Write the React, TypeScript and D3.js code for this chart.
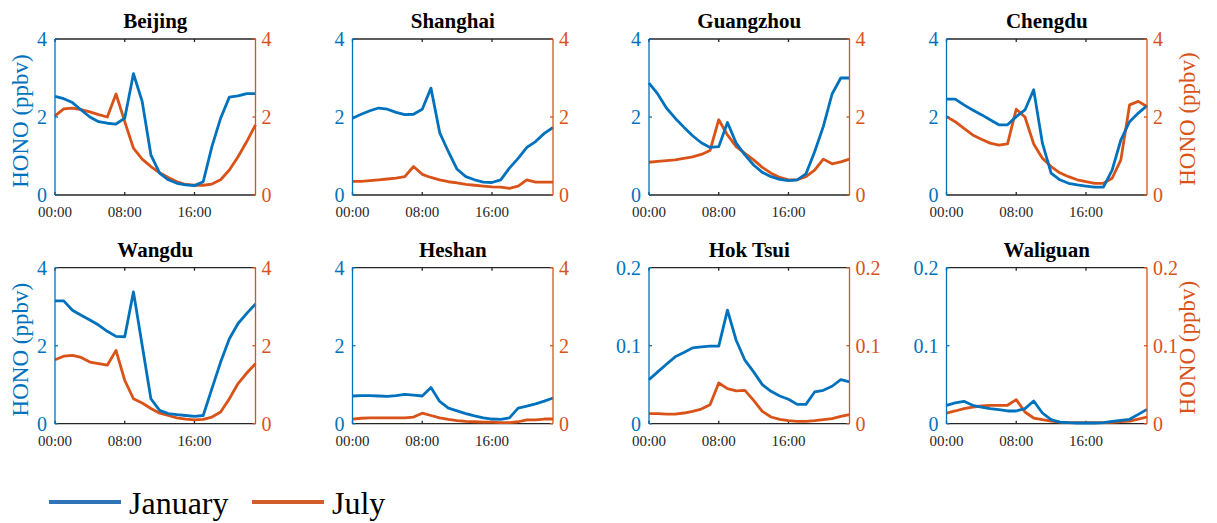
import React from "react";
import * as d3 from "d3";

// hourly means, 00:00 .. 23:00
const hours = d3.range(24);
const xTickHours = [0, 8, 16];
const xTickLabels = ["00:00", "08:00", "16:00"];

const beijingJan = [2.53, 2.47, 2.37, 2.18, 2.0, 1.88, 1.84, 1.82, 1.97, 3.11, 2.4, 1.03, 0.56, 0.39, 0.3, 0.26, 0.24, 0.34, 1.24, 1.97, 2.51, 2.54, 2.6, 2.6];
const beijingJul = [2.03, 2.21, 2.23, 2.19, 2.13, 2.06, 2.0, 2.59, 1.88, 1.2, 0.92, 0.73, 0.57, 0.45, 0.34, 0.27, 0.25, 0.25, 0.28, 0.39, 0.64, 0.98, 1.37, 1.8];
const shanghaiJan = [1.97, 2.07, 2.16, 2.23, 2.2, 2.12, 2.06, 2.07, 2.2, 2.74, 1.6, 1.11, 0.66, 0.47, 0.39, 0.33, 0.32, 0.39, 0.69, 0.94, 1.22, 1.37, 1.58, 1.73];
const shanghaiJul = [0.35, 0.35, 0.37, 0.39, 0.41, 0.43, 0.47, 0.73, 0.53, 0.45, 0.39, 0.34, 0.31, 0.27, 0.25, 0.23, 0.21, 0.2, 0.17, 0.23, 0.39, 0.33, 0.33, 0.33];
const guangzhouJan = [2.87, 2.59, 2.23, 1.97, 1.74, 1.52, 1.34, 1.22, 1.24, 1.86, 1.33, 1.03, 0.77, 0.58, 0.47, 0.4, 0.37, 0.39, 0.54, 1.11, 1.76, 2.59, 3.0, 3.0];
const guangzhouJul = [0.84, 0.86, 0.88, 0.9, 0.94, 0.98, 1.04, 1.14, 1.93, 1.54, 1.24, 1.07, 0.9, 0.71, 0.56, 0.45, 0.39, 0.39, 0.47, 0.64, 0.92, 0.8, 0.85, 0.92];
const chengduJan = [2.46, 2.46, 2.31, 2.18, 2.06, 1.93, 1.8, 1.8, 2.01, 2.18, 2.7, 1.33, 0.56, 0.39, 0.3, 0.26, 0.23, 0.2, 0.2, 0.64, 1.41, 1.88, 2.1, 2.29];
const chengduJul = [2.01, 1.88, 1.71, 1.54, 1.43, 1.33, 1.28, 1.31, 2.2, 2.0, 1.31, 0.94, 0.73, 0.57, 0.47, 0.39, 0.34, 0.3, 0.3, 0.43, 0.9, 2.31, 2.4, 2.27];
const wangduJan = [3.15, 3.15, 2.91, 2.78, 2.66, 2.53, 2.37, 2.24, 2.23, 3.38, 2.01, 0.64, 0.34, 0.26, 0.23, 0.21, 0.19, 0.21, 0.9, 1.58, 2.18, 2.57, 2.83, 3.07];
const wangduJul = [1.64, 1.73, 1.75, 1.7, 1.58, 1.54, 1.5, 1.88, 1.11, 0.64, 0.53, 0.39, 0.27, 0.21, 0.15, 0.12, 0.1, 0.11, 0.17, 0.3, 0.64, 1.03, 1.3, 1.54];
const heshanJan = [0.71, 0.72, 0.72, 0.71, 0.7, 0.72, 0.75, 0.73, 0.71, 0.93, 0.57, 0.4, 0.33, 0.26, 0.2, 0.15, 0.12, 0.11, 0.15, 0.4, 0.45, 0.51, 0.58, 0.66];
const heshanJul = [0.12, 0.14, 0.15, 0.15, 0.15, 0.15, 0.15, 0.17, 0.27, 0.21, 0.15, 0.11, 0.08, 0.06, 0.05, 0.04, 0.04, 0.03, 0.03, 0.05, 0.1, 0.1, 0.12, 0.12];
const hokTsuiJan = [0.0565, 0.0664, 0.0762, 0.0857, 0.0912, 0.0972, 0.0985, 0.0994, 0.0994, 0.1456, 0.107, 0.0814, 0.0664, 0.0501, 0.0415, 0.0355, 0.0313, 0.0248, 0.0248, 0.0407, 0.0428, 0.048, 0.0565, 0.0535];
const hokTsuiJul = [0.0128, 0.0128, 0.0124, 0.0124, 0.0137, 0.0158, 0.0188, 0.0244, 0.0522, 0.045, 0.042, 0.0428, 0.03, 0.0158, 0.0086, 0.0056, 0.0039, 0.003, 0.003, 0.0039, 0.0051, 0.0064, 0.0094, 0.0116];
const waliguanJan = [0.0236, 0.0266, 0.0287, 0.0236, 0.0214, 0.0193, 0.018, 0.0163, 0.0163, 0.0193, 0.0291, 0.0137, 0.0051, 0.0021, 0.0013, 0.0009, 0.0009, 0.0009, 0.0013, 0.003, 0.0043, 0.0056, 0.012, 0.0184];
const waliguanJul = [0.0137, 0.0163, 0.0193, 0.0214, 0.0227, 0.0236, 0.0236, 0.0236, 0.0308, 0.015, 0.0073, 0.0051, 0.0034, 0.0021, 0.0013, 0.0013, 0.0013, 0.0013, 0.0013, 0.0017, 0.0026, 0.0034, 0.006, 0.0086];

const cityNames = ["Beijing", "Shanghai", "Guangzhou", "Chengdu", "Wangdu", "Heshan", "Hok Tsui", "Waliguan"];
const janSeries = [beijingJan, shanghaiJan, guangzhouJan, chengduJan, wangduJan, heshanJan, hokTsuiJan, waliguanJan];
const julSeries = [beijingJul, shanghaiJul, guangzhouJul, chengduJul, wangduJul, heshanJul, hokTsuiJul, waliguanJul];
const yMaxes = [4, 4, 4, 4, 4, 4, 0.2, 0.2];
const yTicksBig = [0, 2, 4];
const yTicksSmall = [0, 0.1, 0.2];

const legendLabels = ["January", "July"];

const BLUE = "#0072BD";
const ORANGE = "#D95319";
const AXIS = "#262626";
const FONT = "'Liberation Serif', 'Times New Roman', serif";

const colLefts = [55, 352.5, 649, 946.5];
const rowTops = [39, 267.7];
const panelW = 200.5;
const panelH = 156;

function Panel({ idx }: { idx: number }) {
  const col = idx % 4;
  const row = Math.floor(idx / 4);
  const x0 = colLefts[col];
  const y0 = rowTops[row];
  const x = d3.scaleLinear().domain([0, 23]).range([x0, x0 + panelW]);
  const y = d3.scaleLinear().domain([0, yMaxes[idx]]).range([y0 + panelH, y0]);
  const ticks = yMaxes[idx] > 1 ? yTicksBig : yTicksSmall;
  const fmt = (v: number) => String(v);
  const line = d3
    .line<number>()
    .x((_, i) => x(hours[i]))
    .y((d) => y(d));
  const bottom = y0 + panelH;
  const right = x0 + panelW;
  const tl = 3;

  return (
    <g>
      {/* box top / bottom */}
      <line x1={x0} x2={right} y1={y0} y2={y0} stroke={AXIS} strokeWidth={1.3} />
      <line x1={x0} x2={right} y1={bottom} y2={bottom} stroke={AXIS} strokeWidth={1.3} />
      {xTickHours.map((h, i) => (
        <g key={h}>
          <line x1={x(h)} x2={x(h)} y1={bottom} y2={bottom - tl} stroke={AXIS} strokeWidth={1.3} />
          <line x1={x(h)} x2={x(h)} y1={y0} y2={y0 + tl} stroke={AXIS} strokeWidth={1.3} />
          <text x={x(h)} y={bottom + 22} fontSize={15} textAnchor="middle" fill="#262626" fontFamily={FONT}>
            {xTickLabels[i]}
          </text>
        </g>
      ))}

      <path d={line(julSeries[idx]) || ""} fill="none" stroke={ORANGE} strokeWidth={2.8} strokeLinejoin="round" />
      <path d={line(janSeries[idx]) || ""} fill="none" stroke={BLUE} strokeWidth={2.8} strokeLinejoin="round" />

      {/* left axis */}
      <line x1={x0} x2={x0} y1={y0} y2={bottom} stroke={BLUE} strokeWidth={1.3} />
      {/* right axis */}
      <line x1={right} x2={right} y1={y0} y2={bottom} stroke={ORANGE} strokeWidth={1.3} />
      {ticks.map((t) => (
        <g key={t}>
          <line x1={x0} x2={x0 + tl} y1={y(t)} y2={y(t)} stroke={BLUE} strokeWidth={1.3} />
          <line x1={right} x2={right - tl} y1={y(t)} y2={y(t)} stroke={ORANGE} strokeWidth={1.3} />
          <text x={x0 - 8} y={y(t)} dy="0.35em" fontSize={20} textAnchor="end" fill={BLUE} fontFamily={FONT}>
            {fmt(t)}
          </text>
          <text x={right + 6} y={y(t)} dy="0.35em" fontSize={20} textAnchor="start" fill={ORANGE} fontFamily={FONT}>
            {fmt(t)}
          </text>
        </g>
      ))}

      <text x={(x0 + right) / 2} y={y0 - 11} fontSize={21} fontWeight="bold" textAnchor="middle" fill="#000" fontFamily={FONT}>
        {cityNames[idx]}
      </text>

      {col === 0 && (
        <text transform={`translate(20,${y0 + panelH / 2 + 4}) rotate(-90)`} dy="0.35em" fontSize={23} textAnchor="middle" fill={BLUE} fontFamily={FONT}>
          HONO (ppbv)
        </text>
      )}
      {col === 3 && (
        <text transform={`translate(1187,${y0 + panelH / 2 + 2}) rotate(-90)`} dy="0.35em" fontSize={23} textAnchor="middle" fill={ORANGE} fontFamily={FONT}>
          HONO (ppbv)
        </text>
      )}
    </g>
  );
}

export default function App() {
  const legendColors = ["#2f74b6", "#d15d2a"];
  const legendX = [49, 252];
  return (
    <svg width={1217} height={523} style={{ position: "absolute", left: 0, top: 0, background: "#fff" }}>
      {cityNames.map((_, i) => (
        <Panel key={i} idx={i} />
      ))}
      {legendLabels.map((lab, i) => (
        <g key={lab}>
          <line x1={legendX[i]} x2={legendX[i] + 72} y1={502} y2={502} stroke={legendColors[i]} strokeWidth={4} />
          <text x={legendX[i] + 80} y={514} fontSize={32} fill="#000" fontFamily={FONT}>
            {lab}
          </text>
        </g>
      ))}
    </svg>
  );
}
